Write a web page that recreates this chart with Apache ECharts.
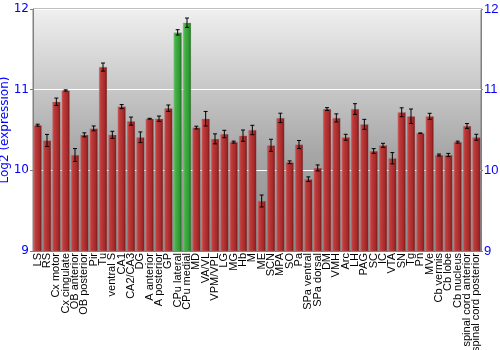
<!DOCTYPE html>
<html><head><meta charset="utf-8">
<script src="https://cdn.jsdelivr.net/npm/echarts@6/dist/echarts.min.js"></script>
<style>html,body{margin:0;padding:0;background:#fff}#c{width:500px;height:350px}</style>
</head><body><div id="c"></div>
<script>
var categories = ["LS","RS","Cx motor","Cx cingulate","OB anterior","OB posterior","Pir","Tu","ventral S","CA1","CA2/CA3","DG","A anterior","A posterior","GP","CPu lateral","CPu medial","MD","VA/VL","VPM/VPL","LG","MG","Hb","M","ME","SCN","MPA","SO","Pa","SPa ventral","SPa dorsal","DM","VMH","Arc","LH","PAG","SC","IC","VTA","SN","Tg","Pn","MVe","Cb vermis","Cb lobe","Cb nucleus","spinal cord anterior","spinal cord posterior"];
var values = [10.56,10.37,10.85,10.99,10.19,10.44,10.52,11.28,10.44,10.79,10.61,10.41,10.64,10.64,10.77,11.71,11.83,10.53,10.64,10.39,10.45,10.35,10.43,10.5,9.62,10.31,10.65,10.1,10.32,9.89,10.03,10.76,10.65,10.41,10.76,10.57,10.24,10.31,10.15,10.72,10.67,10.46,10.67,10.19,10.19,10.35,10.55,10.41];
var errors = [0.012,0.075,0.046,0.008,0.08,0.025,0.03,0.05,0.044,0.025,0.05,0.066,0.005,0.033,0.04,0.033,0.058,0.017,0.09,0.062,0.046,0.012,0.07,0.058,0.074,0.075,0.058,0.017,0.05,0.029,0.037,0.017,0.05,0.037,0.066,0.062,0.029,0.025,0.07,0.055,0.09,0.004,0.037,0.012,0.02,0.012,0.03,0.037];
var highlighted = ["CPu lateral","CPu medial"];
var yTicks = [9,10,11,12];

var chart = echarts.init(document.getElementById('c'), null, {renderer:'canvas'});
var redGrad = new echarts.graphic.LinearGradient(0,0,1,0,[{offset:0,color:'#d25a5a'},{offset:0.25,color:'#bd3a3a'},{offset:0.7,color:'#a82a2a'},{offset:1,color:'#701414'}]);
var greenGrad = new echarts.graphic.LinearGradient(0,0,1,0,[{offset:0,color:'#6cc86c'},{offset:0.25,color:'#44b044'},{offset:0.7,color:'#329a32'},{offset:1,color:'#1a6a1a'}]);
var barData = values.map(function(v,i){
  return {value:v, itemStyle:{color: highlighted.indexOf(categories[i])>=0 ? greenGrad : redGrad}};
});
var errData = values.map(function(v,i){ return [i, v-errors[i], v+errors[i]]; });
var axisCommon = {
  type:'value', min:yTicks[0], max:yTicks[yTicks.length-1], interval:1,
  axisLine:{show:true, lineStyle:{color:'#808080'}},
  axisTick:{show:true, length:3, lineStyle:{color:'#808080'}},
  axisLabel:{color:'#0000ff', fontSize:12, fontFamily:'DejaVu Sans', margin:4}
};
chart.setOption({
  animation:false,
  grid:{left:33, right:19, top:9, bottom:99, containLabel:false, outerBoundsMode:'none',
    show:true, borderColor:'#808080', borderWidth:1,
    backgroundColor:new echarts.graphic.LinearGradient(0,0,0,1,[{offset:0,color:'#f0f0f0'},{offset:0.6,color:'#a6a6a6'},{offset:1,color:'#8c8c8c'}])},
  xAxis:{type:'category', data:categories,
    axisLine:{show:true, lineStyle:{color:'#808080'}}, axisTick:{show:false},
    axisLabel:{rotate:90, interval:0, color:'#000', fontSize:11, fontFamily:'Liberation Sans', margin:2}},
  yAxis:[
    Object.assign({}, axisCommon, {position:'left', name:'Log2 (expression)', nameLocation:'middle', nameGap:22,
      nameMoveOverlap:false,
      nameTextStyle:{color:'#0000ff', fontSize:12, fontFamily:'DejaVu Sans'},
      splitLine:{show:true, lineStyle:{color:'#ffffff', width:1}}}),
    Object.assign({}, axisCommon, {position:'right', splitLine:{show:false},
      axisTick:{show:true, length:2, lineStyle:{color:'#808080'}},
      axisLabel:Object.assign({}, axisCommon.axisLabel, {margin:3, fontFamily:'Liberation Sans', fontSize:13})})
  ],
  series:[
    {type:'bar', data:barData, barCategoryGap:'12%', yAxisIndex:0,
     itemStyle:{borderColor:'rgba(150,150,150,0.5)', borderWidth:0.5}},
    {type:'custom', yAxisIndex:0, data:errData, z:5,
     renderItem:function(params, api){
       var x = api.value(0);
       var lo = api.coord([x, api.value(1)]);
       var hi = api.coord([x, api.value(2)]);
       var cw = 2;
       var st = {stroke:'#000', lineWidth:1};
       return {type:'group', children:[
         {type:'line', shape:{x1:lo[0], y1:lo[1], x2:hi[0], y2:hi[1]}, style:st},
         {type:'line', shape:{x1:lo[0]-cw, y1:lo[1], x2:lo[0]+cw, y2:lo[1]}, style:st},
         {type:'line', shape:{x1:hi[0]-cw, y1:hi[1], x2:hi[0]+cw, y2:hi[1]}, style:st}
       ]};
     }}
  ]
});
</script></body></html>
